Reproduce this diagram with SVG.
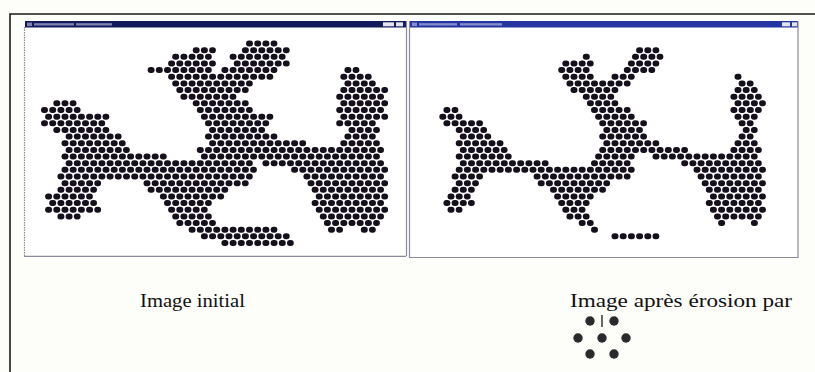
<svg xmlns="http://www.w3.org/2000/svg" width="815" height="372" viewBox="0 0 815 372">
<style>
.dots{fill:none;stroke:#15101c;stroke-width:6;stroke-linecap:round;stroke-dasharray:1 7.2}
.win{fill:#ffffff}
.tl{fill:#131a5c}
.tr{fill:#2434a0}
.ttl{fill:#c8cce8;opacity:.6}
.btn{fill:#e4e4ee}
.edge{fill:none;stroke:#8c8a9a;stroke-width:1.2}
.cap{font-size:19px;fill:#111111}
.kdot{fill:#2a2a2e}
</style>
<rect width="815" height="372" fill="#fdfdfa"/>
<path d="M10 372V14H815" fill="none" stroke="#1a1a1a" stroke-width="1.6"/>

<g id="window-initial">
<rect class="win" x="24" y="27" width="382" height="229"/>
<rect class="tl" x="25" y="21" width="381" height="6.5"/>
<rect class="ttl" x="27" y="22.6" width="5" height="3.5"/>
<rect class="ttl" x="34" y="23.2" width="40" height="2.3"/>
<rect class="ttl" x="76" y="23.2" width="36" height="2.3"/>
<rect class="btn" x="383" y="22.3" width="11" height="4"/>
<rect class="btn" x="396" y="22.3" width="7" height="4"/>
<path class="edge" d="M24.5 27V256" stroke-dasharray="1.5 1"/>
<path class="edge" d="M24 256.3H406" stroke="#7d7890" stroke-width="1.5"/>
<path class="edge" d="M406.5 21V256"/>
</g>

<g id="window-eroded">
<rect class="win" x="409" y="27" width="389" height="230"/>
<rect class="tr" x="410" y="21" width="388" height="6.5"/>
<rect class="ttl" x="412" y="22.6" width="5" height="3.5"/>
<rect class="ttl" x="419" y="23.2" width="38" height="2.3"/>
<rect class="ttl" x="460" y="23.2" width="42" height="2.3"/>
<rect class="btn" x="782" y="22.3" width="8" height="4"/>
<rect class="btn" x="792" y="22.3" width="5" height="4"/>
<path class="edge" d="M409.5 21V257"/>
<path class="edge" d="M409 257.5H798" stroke="#666" stroke-width="1.3"/>
<path class="edge" d="M798 21V258" stroke="#333" stroke-width="1.6"/>
</g>

<g id="image-initial" class="dots" transform="translate(-0.1 0)">
<path d="M249.1 43.5h25.4"/>
<path d="M195.8 50.15h17.2M245 50.15h41.8"/>
<path d="M175.3 56.8h33.6M232.7 56.8h50"/>
<path d="M171.2 63.45h41.8M236.8 63.45h50"/>
<path d="M150.7 70.1h58.2M224.5 70.1h50M347.5 70.1h9"/>
<path d="M171.2 76.75h99.2M343.4 76.75h25.4"/>
<path d="M175.3 83.4h74.6M347.5 83.4h25.4"/>
<path d="M179.4 90.05h66.4M343.4 90.05h41.8"/>
<path d="M183.5 96.7h50M339.3 96.7h41.8"/>
<path d="M56.4 103.35h17.2M195.8 103.35h50M343.4 103.35h41.8"/>
<path d="M44.1 110h33.6M199.9 110h50M339.3 110h41.8"/>
<path d="M48.2 116.65h58.2M204 116.65h66.4M343.4 116.65h41.8"/>
<path d="M44.1 123.3h58.2M208.1 123.3h58.2M339.3 123.3h33.6"/>
<path d="M56.4 129.95h50M212.2 129.95h50M351.6 129.95h25.4"/>
<path d="M68.7 136.6h50M208.1 136.6h66.4M347.5 136.6h25.4"/>
<path d="M64.6 143.25h58.2M212.2 143.25h91M343.4 143.25h33.6"/>
<path d="M68.7 149.9h58.2M199.9 149.9h181.2"/>
<path d="M64.6 156.55h99.2M204 156.55h173"/>
<path d="M68.7 163.2h181.2M265.5 163.2h115.6"/>
<path d="M64.6 169.85h189.4M294.2 169.85h91"/>
<path d="M60.5 176.5h189.4M306.5 176.5h74.6"/>
<path d="M64.6 183.15h33.6M146.6 183.15h99.2M310.6 183.15h74.6"/>
<path d="M60.5 189.8h33.6M150.7 189.8h74.6M314.7 189.8h66.4"/>
<path d="M48.2 196.45h41.8M163 196.45h58.2M318.8 196.45h66.4"/>
<path d="M52.3 203.1h41.8M167.1 203.1h41.8M314.7 203.1h66.4"/>
<path d="M48.2 209.75h50M171.2 209.75h33.6M318.8 209.75h66.4"/>
<path d="M60.5 216.4h17.2M175.3 216.4h33.6M322.9 216.4h58.2"/>
<path d="M179.4 223.05h33.6M327 223.05h50"/>
<path d="M191.7 229.7h82.8M331.1 229.7h9M363.9 229.7h9"/>
<path d="M204 236.35h82.8"/>
<path d="M224.5 243h66.4"/>
</g>

<g id="image-eroded" class="dots" transform="translate(385.9 0)">
<path d="M253.2 50.15h17.2"/>
<path d="M199.9 56.8h1M249.1 56.8h25.4"/>
<path d="M179.4 63.45h25.4M245 63.45h25.4"/>
<path d="M175.3 70.1h25.4M240.9 70.1h25.4"/>
<path d="M179.4 76.75h25.4M228.6 76.75h17.2M351.6 76.75h1"/>
<path d="M183.5 83.4h58.2M355.7 83.4h9"/>
<path d="M187.6 90.05h41.8M351.6 90.05h17.2"/>
<path d="M199.9 96.7h25.4M347.5 96.7h25.4"/>
<path d="M204 103.35h25.4M351.6 103.35h25.4"/>
<path d="M60.5 110h9M208.1 110h33.6M347.5 110h25.4"/>
<path d="M56.4 116.65h17.2M212.2 116.65h33.6M351.6 116.65h17.2"/>
<path d="M60.5 123.3h33.6M216.3 123.3h41.8M355.7 123.3h9"/>
<path d="M72.8 129.95h25.4M220.4 129.95h33.6M359.8 129.95h9"/>
<path d="M76.9 136.6h25.4M216.3 136.6h41.8M355.7 136.6h9"/>
<path d="M72.8 143.25h41.8M220.4 143.25h50M351.6 143.25h17.2"/>
<path d="M76.9 149.9h41.8M216.3 149.9h82.8M347.5 149.9h25.4"/>
<path d="M72.8 156.55h50M212.2 156.55h33.6M269.6 156.55h99.2"/>
<path d="M76.9 163.2h82.8M208.1 163.2h33.6M298.3 163.2h74.6"/>
<path d="M72.8 169.85h173M310.6 169.85h66.4"/>
<path d="M68.7 176.5h25.4M150.7 176.5h91M314.7 176.5h58.2"/>
<path d="M72.8 183.15h17.2M154.8 183.15h66.4M318.8 183.15h58.2"/>
<path d="M68.7 189.8h17.2M167.1 189.8h50M322.9 189.8h50"/>
<path d="M64.6 196.45h17.2M171.2 196.45h33.6M327 196.45h50"/>
<path d="M60.5 203.1h25.4M175.3 203.1h25.4M322.9 203.1h50"/>
<path d="M64.6 209.75h9M179.4 209.75h17.2M327 209.75h50"/>
<path d="M183.5 216.4h17.2M331.1 216.4h41.8"/>
<path d="M195.8 223.05h9M335.2 223.05h1M368 223.05h1"/>
<path d="M208.1 229.7h1"/>
<path d="M228.6 236.35h41.8"/>
</g>

<g id="captions" font-family="'Liberation Serif', 'Times New Roman', serif">
<text class="cap" x="140" y="307" textLength="105" lengthAdjust="spacingAndGlyphs">Image initial</text>
<text class="cap" x="570" y="307" textLength="222" lengthAdjust="spacingAndGlyphs">Image après érosion par</text>
</g>

<g id="kernel">
<circle class="kdot" cx="590" cy="321" r="4.7"/>
<circle class="kdot" cx="614" cy="321" r="4.7"/>
<circle class="kdot" cx="578" cy="338" r="4.7"/>
<circle class="kdot" cx="602" cy="338" r="4.7"/>
<circle class="kdot" cx="626" cy="338" r="4.7"/>
<circle class="kdot" cx="590" cy="354" r="4.7"/>
<circle class="kdot" cx="614" cy="354" r="4.7"/>
<path d="M602 315V327" stroke="#333" stroke-width="1.5"/>
</g>
</svg>
